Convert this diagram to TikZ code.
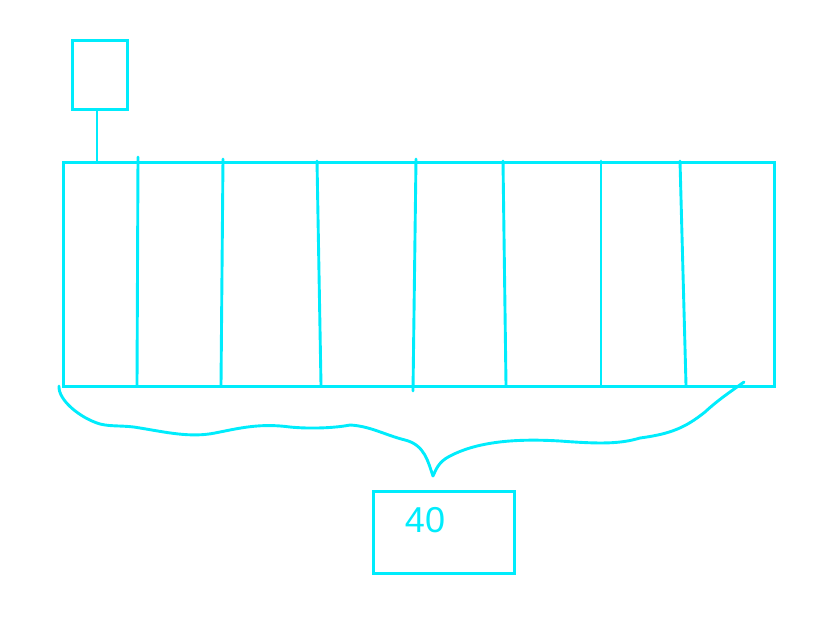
\documentclass[tikz,border=0pt]{standalone}
\usepackage{fontspec}
\setmainfont{Liberation Sans}
\definecolor{ink}{RGB}{0,236,252}
\begin{document}
\begin{tikzpicture}[
        x = 1pt, y = -1pt,
        box/.style = {draw, ink, line width = 2.9pt, inner sep = 0pt, anchor = north west},
        pen/.style = {draw, ink, line width = 2.9pt, line cap = round, line join = round},
      ]
        \useasboundingbox (0,0) rectangle (840,619);
        \node[box, minimum width = 55pt, minimum height = 69pt] (head) at (71,39) {};
        \node[box, minimum width = 711pt, minimum height = 224pt] (arr) at (62,161) {};
        \node[box, minimum width = 141pt, minimum height = 82pt] (len) at (372,490) {};
        \node[ink, font = \fontsize{36}{40}\selectfont] (num) at (425,520) {40};
        \draw[pen] (head.south -| 97,0) -- (arr.north -| 97,0);
        % cell walls, drawn by hand
        \draw[pen] (138,157) -- (137,385);
        \draw[pen] (223,159) -- (221,385);
        \draw[pen] (317,161) -- (321,385);
        \draw[pen] (416,159) -- (413,391);
        \draw[pen] (503,161) -- (506,385);
        \draw[pen] (601,161) -- (601,385);
        \draw[pen] (680,161) -- (686,385);
        % brace
        \draw[pen] (59,386) .. controls (58,400) and (80,418) .. (100,424)
          .. controls (112,427) and (125,425) .. (140,428)
          .. controls (165,432) and (190,438) .. (215,433)
          .. controls (240,428) and (260,423) .. (290,427)
          .. controls (310,429) and (335,428) .. (350,425)
          .. controls (370,426) and (385,435) .. (405,440)
          .. controls (425,445) and (428,462) .. (433,476)
          .. controls (436,470) and (438,462) .. (450,456)
          .. controls (475,443) and (510,438) .. (560,441)
          .. controls (600,444) and (620,444) .. (640,438)
          .. controls (670,434) and (685,428) .. (705,412)
          .. controls (718,400) and (730,392) .. (744,382);
      \end{tikzpicture}
\end{document}
